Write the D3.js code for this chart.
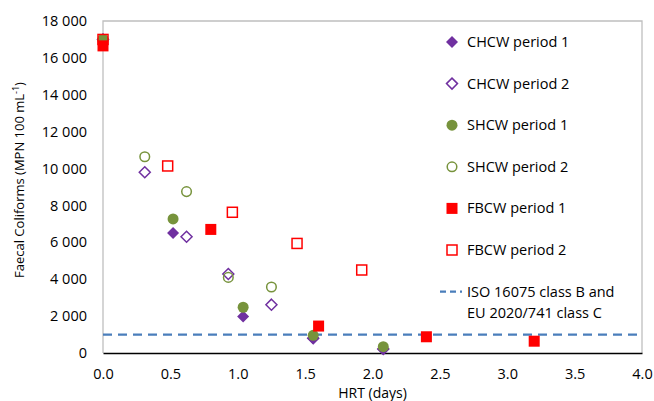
<!DOCTYPE html>
<html>
<head>
<meta charset="utf-8">
<script src="https://cdn.jsdelivr.net/npm/d3@7"></script>
<style>
  body { margin: 0; background: #fff; }
  text { font-family: "Open Sans", "Noto Sans", sans-serif; fill: #000; }
</style>
</head>
<body>
<svg id="drawing_region"></svg>
<script>
// HRT (days) and faecal coliforms (MPN 100 mL-1) per series
const chcw1_hrt = [0, 0.52, 1.04, 1.56, 2.08];
const chcw1_fc  = [17000, 6500, 1980, 800, 220];
const chcw2_hrt = [0, 0.31, 0.62, 0.93, 1.25, 1.56, 2.08];
const chcw2_fc  = [17000, 9800, 6300, 4280, 2620, 800, 220];
const shcw1_hrt = [0, 0.52, 1.04, 1.56, 2.08];
const shcw1_fc  = [17000, 7270, 2480, 960, 340];
const shcw2_hrt = [0, 0.31, 0.62, 0.93, 1.25];
const shcw2_fc  = [17000, 10640, 8750, 4100, 3580];
const fbcw1_hrt = [0, 0.8, 1.6, 2.4, 3.2];
const fbcw1_fc  = [16650, 6700, 1460, 880, 640];
const fbcw2_hrt = [0, 0.48, 0.96, 1.44, 1.92];
const fbcw2_fc  = [17000, 10140, 7630, 5940, 4500];
const limit_fc = 1000;

const x_ticks = [0, 0.5, 1, 1.5, 2, 2.5, 3, 3.5, 4];
const y_ticks = [0, 2000, 4000, 6000, 8000, 10000, 12000, 14000, 16000, 18000];

const series = [
    { name: 'CHCW period 1', hrt: chcw1_hrt, fc: chcw1_fc, shape: 'diamond', color: '#7030a0', filled: true },
    { name: 'CHCW period 2', hrt: chcw2_hrt, fc: chcw2_fc, shape: 'diamond', color: '#7030a0', filled: false },
    { name: 'SHCW period 1', hrt: shcw1_hrt, fc: shcw1_fc, shape: 'circle', color: '#77933c', filled: true },
    { name: 'SHCW period 2', hrt: shcw2_hrt, fc: shcw2_fc, shape: 'circle', color: '#77933c', filled: false },
    { name: 'FBCW period 1', hrt: fbcw1_hrt, fc: fbcw1_fc, shape: 'square', color: '#ff0000', filled: true },
    { name: 'FBCW period 2', hrt: fbcw2_hrt, fc: fbcw2_fc, shape: 'square', color: '#ff0000', filled: false }
];

const config = {
    width: 654,
    height: 401,
    margin: { top: 21, right: 12, bottom: 48, left: 103 }
};

const svg = d3.select('#drawing_region')
    .attr('width', config.width)
    .attr('height', config.height);

const inner_width = config.width - config.margin.left - config.margin.right;
const inner_height = config.height - config.margin.top - config.margin.bottom;

const chart = svg.append('g')
    .attr('transform', `translate(${config.margin.left}, ${config.margin.top})`);

const xscale = d3.scaleLinear().domain([0, 4]).range([0, inner_width]);
const yscale = d3.scaleLinear().domain([0, 18000]).range([inner_height, 0]);

// plot frame (gray top/right/left)
chart.append('path')
    .attr('d', `M0,${inner_height}V0H${inner_width}V${inner_height}`)
    .attr('fill', 'none')
    .attr('stroke', '#bfbfbf')
    .attr('stroke-width', 1.3);

const xaxis = d3.axisBottom(xscale).tickValues(x_ticks).tickSize(0).tickPadding(16)
    .tickFormat(d3.format('.1f'));
const yaxis = d3.axisLeft(yscale).tickValues(y_ticks).tickSize(0).tickPadding(16)
    .tickFormat(d => d3.format(',')(d).replace(/,/g, ' '));

const xg = chart.append('g')
    .attr('transform', `translate(0, ${inner_height})`)
    .call(xaxis);
xg.select('.domain').attr('stroke', '#000').attr('stroke-width', 1.3);
xg.selectAll('text').style('font-size', '14.5px').attr('fill', '#000');

const yg = chart.append('g').call(yaxis);
yg.select('.domain').remove();
yg.selectAll('text').style('font-size', '14.5px').attr('fill', '#000');

// axis titles
chart.append('text')
    .attr('x', inner_width / 2)
    .attr('y', inner_height + 45)
    .attr('text-anchor', 'middle')
    .style('font-size', '14px')
    .text('HRT (days)');

const ytitle = chart.append('text')
    .attr('transform', `translate(${-config.margin.left + 24}, ${inner_height / 2 - 7}) rotate(-90)`)
    .attr('text-anchor', 'middle')
    .style('font-size', '13px');
ytitle.append('tspan').text('Faecal Coliforms (MPN 100 mL');
ytitle.append('tspan').attr('dy', -5).style('font-size', '9px').text('-1');
ytitle.append('tspan').attr('dy', 5).text(')');

// limit line
chart.append('line')
    .attr('x1', 0)
    .attr('x2', inner_width)
    .attr('y1', yscale(limit_fc))
    .attr('y2', yscale(limit_fc))
    .attr('stroke', '#4a7ebb')
    .attr('stroke-width', 2.2)
    .attr('stroke-dasharray', '9,6');

function marker(sel, s) {
    if (s.shape === 'circle') {
        sel.append('circle').attr('r', s.filled ? 5.5 : 4.8);
    } else if (s.shape === 'square') {
        const h = s.filled ? 5.5 : 5;
        sel.append('rect').attr('x', -h).attr('y', -h).attr('width', 2 * h).attr('height', 2 * h);
    } else {
        const h = s.filled ? 6 : 5.5;
        sel.append('path').attr('d', `M0,${-h}L${h},0L0,${h}L${-h},0Z`);
    }
    sel.selectAll('*')
        .attr('fill', s.filled ? s.color : 'none')
        .attr('stroke', s.color)
        .attr('stroke-width', s.filled ? 0 : 1.5);
}

series.forEach(s => {
    const pts = s.hrt.map((h, i) => ({ h: h, v: s.fc[i] }));
    chart.append('g').selectAll('g').data(pts).enter()
        .append('g')
        .attr('transform', d => `translate(${xscale(d.h)}, ${yscale(d.v)})`)
        .each(function () { marker(d3.select(this), s); });
});

// legend
const legend = chart.append('g').attr('transform', `translate(${452 - config.margin.left}, ${42 - config.margin.top})`);
series.forEach((s, i) => {
    const row = legend.append('g').attr('transform', `translate(0, ${i * 41.6})`);
    marker(row, s);
    row.append('text')
        .attr('x', 15)
        .attr('y', 5)
        .style('font-size', '14.5px')
        .text(s.name);
});
const lrow = legend.append('g').attr('transform', `translate(0, ${6 * 41.6})`);
lrow.append('line')
    .attr('x1', -12).attr('x2', 10)
    .attr('stroke', '#4a7ebb')
    .attr('stroke-width', 2.2)
    .attr('stroke-dasharray', '6,4');
lrow.append('text').attr('x', 15).attr('y', 5).style('font-size', '14.5px').text('ISO 16075 class B and');
lrow.append('text').attr('x', 15).attr('y', 26).style('font-size', '14.5px').text('EU 2020/741 class C');
</script>
</body>
</html>
